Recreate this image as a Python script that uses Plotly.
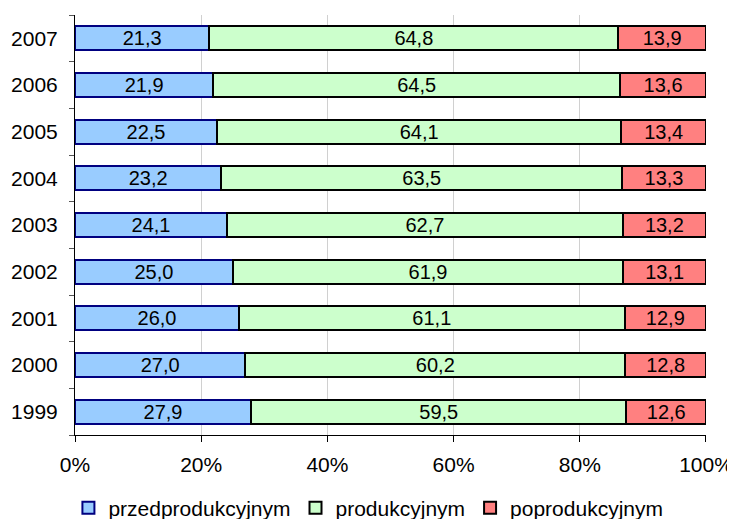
import plotly.graph_objects as go

years = ["1999", "2000", "2001", "2002", "2003", "2004", "2005", "2006", "2007"]
przed = [27.9, 27.0, 26.0, 25.0, 24.1, 23.2, 22.5, 21.9, 21.3]
prod = [59.5, 60.2, 61.1, 61.9, 62.7, 63.5, 64.1, 64.5, 64.8]
popr = [12.6, 12.8, 12.9, 13.1, 13.2, 13.3, 13.4, 13.6, 13.9]
xticks = [0, 20, 40, 60, 80, 100]
xticklabels = ["0%", "20%", "40%", "60%", "80%", "100%"]

series = [
    ("przedprodukcyjnym", przed, "#99ccff", "#000080"),
    ("produkcyjnym", prod, "#ccffcc", "#000000"),
    ("poprodukcyjnym", popr, "#ff8080", "#000000"),
]

FONT = "Liberation Sans, Arial, sans-serif"

fig = go.Figure()
for name, vals, fill, line in series:
    fig.add_trace(go.Bar(
        y=years, x=vals, name=name, orientation="h",
        marker=dict(color=fill, line=dict(color=line, width=2)),
        text=[f"{v:.1f}".replace(".", ",") for v in vals],
        textposition="inside", insidetextanchor="middle",
        textangle=0, constraintext="none",
        textfont=dict(family=FONT, size=20, color="black"),
        cliponaxis=False,
    ))

# the page body adds an 8px offset, so margins are shifted by -8px
fig.update_layout(
    barmode="stack", bargap=0.49,
    width=735, height=519,
    margin=dict(l=67, r=37, t=7, b=92, autoexpand=False),
    plot_bgcolor="white", paper_bgcolor="white",
    font=dict(family=FONT, size=21, color="black"),
    uniformtext=dict(minsize=20, mode="show"),
    legend=dict(orientation="h", x=0.465, xanchor="center", y=-0.174, yanchor="middle",
                font=dict(size=21), traceorder="normal",
                itemwidth=30, tracegroupgap=0),
    xaxis=dict(range=[0, 100.001], tickvals=xticks, ticktext=xticklabels,
               showgrid=True, gridcolor="#d0d0d0", gridwidth=1,
               showline=True, linecolor="black", linewidth=1,
               ticks="outside", ticklen=6, tickcolor="black", zeroline=False,
               automargin=False, ticklabelstandoff=5),
    yaxis=dict(showline=True, linecolor="black", linewidth=1, showgrid=False,
               ticks="outside", tickson="boundaries", ticklen=5, tickcolor="#555555",
               ticklabelstandoff=12, automargin=False),
)

fig.write_html("out.html")
